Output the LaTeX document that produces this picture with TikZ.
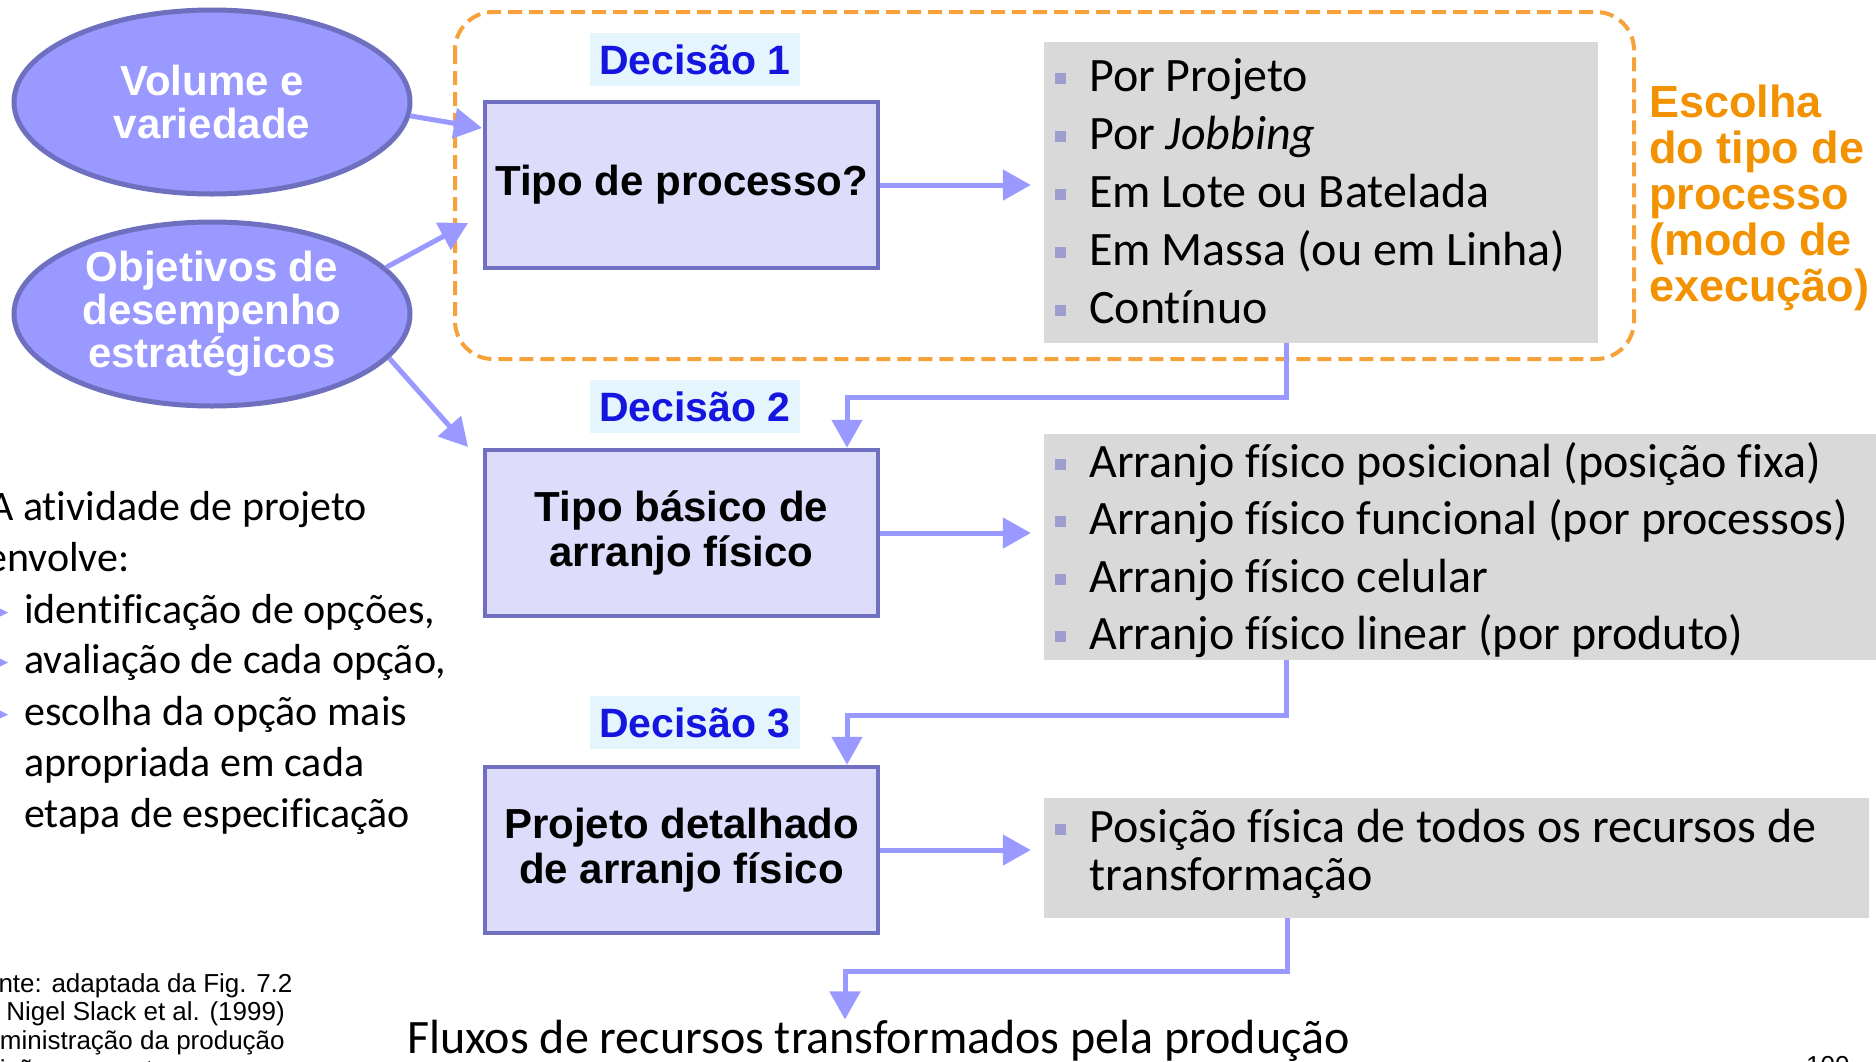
\documentclass[tikz,border=0pt]{standalone}
\usepackage{fontspec}
\setmainfont{Carlito}[Ligatures=NoCommon]
\newfontfamily\arialf{Liberation Sans}
\usetikzlibrary{arrows.meta,shapes.geometric}
\definecolor{ellf}{HTML}{9999FF}
\definecolor{ellb}{HTML}{6F6FBF}
\definecolor{boxf}{HTML}{DDDDFB}
\definecolor{boxb}{HTML}{7070C0}
\definecolor{arrc}{HTML}{9999FF}
\definecolor{decbg}{HTML}{E5F5FD}
\definecolor{dect}{HTML}{1515E0}
\definecolor{grayb}{HTML}{D9D9D9}
\definecolor{bulc}{HTML}{9D9DCF}
\definecolor{orgt}{HTML}{F39200}
\definecolor{orgd}{HTML}{F7A13A}
\begin{document}
\begin{tikzpicture}[x=1pt,y=-1pt,
  ell/.style={ellipse,draw=ellb,fill=ellf,line width=5pt,minimum width=396pt,minimum height=184pt,inner sep=0pt,align=center,text=white,font=\arialf\bfseries\fontsize{42}{43}\selectfont},
  dbox/.style={rectangle,draw=boxb,fill=boxf,line width=4.5pt,minimum width=393pt,minimum height=166pt,inner sep=0pt,align=center,font=\arialf\bfseries\fontsize{42}{45}\selectfont},
  dec/.style={fill=decbg,text=dect,minimum width=210pt,minimum height=53pt,inner sep=0pt,font=\arialf\bfseries\fontsize{41}{41}\selectfont},
  gbox/.style={fill=grayb,inner sep=0pt},
  li/.style={anchor=base west,inner sep=0pt,font=\fontsize{48}{58}\selectfont},
  lt/.style={anchor=base west,inner sep=0pt,font=\fontsize{42}{50}\selectfont},
  src/.style={anchor=base west,inner sep=0pt,font=\arialf\fontsize{26}{28}\selectfont},
  bsq/.style={fill=bulc,inner sep=0pt,minimum size=11pt},
  arr/.style={draw=arrc,line width=5pt,-{Triangle[length=28pt,width=30pt]}},
]
\useasboundingbox (0,0) rectangle (1876,1061);
\clip (0,0) rectangle (1876,1061);

% dashed frame
\draw[orgd,line width=4pt,dash pattern=on 14pt off 7pt,rounded corners=38pt] (455,12) rectangle (1634,359);

% ellipses
\node[ell] (e1) at (212,102) {Volume e\\variedade};
\node[ell] (e2) at (212,314) {Objetivos de\\desempenho\\estratégicos};

% decision labels
\node[dec] (d1) at (695,59.5) {Decisão 1};
\node[dec] (d2) at (695,406.5) {Decisão 2};
\node[dec] (d3) at (695,722.5) {Decisão 3};

% boxes
\node[dbox] (b1) at (681.5,185) {Tipo de processo?};
\node[dbox] (b2) at (681.5,533) {Tipo básico de\\arranjo físico};
\node[dbox] (b3) at (681.5,850) {Projeto detalhado\\de arranjo físico};

% gray boxes
\node[gbox,minimum width=554pt,minimum height=301pt] (g1) at (1321,192.5) {};
\node[gbox,minimum width=832pt,minimum height=226pt] (g2) at (1460,547) {};
\node[gbox,minimum width=825pt,minimum height=120pt] (g3) at (1456.5,858) {};

% list 1
\foreach \yy in {91,149,207,265,323} {\node[bsq] at (1060,\yy-13) {};}
\node[li] (l11) at (1089,91) {Por Projeto};
\node[li] (l12) at (1089,149) {Por \textit{Jobbing}};
\node[li] (l13) at (1089,207) {Em Lote ou Batelada};
\node[li] (l14) at (1089,265) {Em Massa (ou em Linha)};
\node[li] (l15) at (1089,323) {Contínuo};

% list 2
\foreach \yy in {477,534,592,649} {\node[bsq] at (1060,\yy-13) {};}
\node[li] (l21) at (1089,477) {Arranjo físico posicional (posição fixa)};
\node[li] (l22) at (1089,534) {Arranjo físico funcional (por processos)};
\node[li] (l23) at (1089,592) {Arranjo físico celular};
\node[li] (l24) at (1089,649) {Arranjo físico linear (por produto)};

% list 3
\node[bsq] at (1060,829) {};
\node[li] (l31) at (1089,842) {Posição física de todos os recursos de};
\node[li] (l32) at (1089,890) {transformação};

% orange text
\node[anchor=base west,inner sep=0pt,text=orgt,font=\arialf\bfseries\fontsize{45}{46}\selectfont] (o1) at (1649,117) {Escolha};
\node[anchor=base west,inner sep=0pt,text=orgt,font=\arialf\bfseries\fontsize{45}{46}\selectfont] (o2) at (1649,163) {do tipo de};
\node[anchor=base west,inner sep=0pt,text=orgt,font=\arialf\bfseries\fontsize{45}{46}\selectfont] (o3) at (1649,209) {processo};
\node[anchor=base west,inner sep=0pt,text=orgt,font=\arialf\bfseries\fontsize{45}{46}\selectfont] (o4) at (1649,255) {(modo de};
\node[anchor=base west,inner sep=0pt,text=orgt,font=\arialf\bfseries\fontsize{45}{46}\selectfont] (o5) at (1649,301) {execução)};

% left text
\node[lt] (t1) at (-11,520) {A atividade de projeto};
\node[lt] (t2) at (-14,571) {envolve:};
\node[lt] (t3) at (24,623) {identificação de opções,};
\node[lt] (t4) at (24,673) {avaliação de cada opção,};
\node[lt] (t5) at (24,725) {escolha da opção mais};
\node[lt] (t6) at (24,776) {apropriada em cada};
\node[lt] (t7) at (24,827) {etapa de especificação};
\foreach \yy in {623,673,725} {\fill[arrc] (-3,\yy-16) -- (8,\yy-10.5) -- (-3,\yy-5) -- cycle;}

% source text
\node[src] (s1) at (-32,992) {Fonte: adaptada da Fig. 7.2};
\node[src] (s2) at (-30,1020) {de Nigel Slack et al. (1999)};
\node[src] (s3) at (-32,1049) {Administração da produção};
\node[src] (s4) at (-32,1078) {Edição compacta};
\node[src] (pg) at (1806,1074) {100};

% bottom text
\node[anchor=base west,inner sep=0pt,font=\fontsize{48}{58}\selectfont] (flux) at (407,1053) {Fluxos de recursos transformados pela produção};

% connectors
\coordinate (t1e) at (482,128);
\coordinate (t2e) at (468,223);
\coordinate (t3e) at (468,447);
\draw[arr] (e1.-4) -- (t1e);
\draw[arr] (e2.15) -- (t2e);
\draw[arr] (e2.-14) -- (t3e);

\draw[arr,shorten >=13pt] (b1.east) -- (b1.east -| g1.west);
\draw[arr,shorten >=13pt] (b2.east) -- (b2.east -| g2.west);
\draw[arr,shorten >=13pt] (b3.east) -- (b3.east -| g3.west);

\coordinate (c1) at (1286,397);
\coordinate (c2) at (847,397);
\coordinate (c3) at (1286,715);
\coordinate (c4) at (847,715);
\coordinate (c5) at (1287,971);
\coordinate (c6) at (845,971);
\draw[arr] (g1.south -| c1) |- (c2) -- (b2.north -| c2);
\draw[arr] (g2.south -| c3) |- (c4) -- (b3.north -| c4);
\draw[arr] (g3.south -| c5) |- (c6) -- (flux.north -| c6);
\end{tikzpicture}
\end{document}
